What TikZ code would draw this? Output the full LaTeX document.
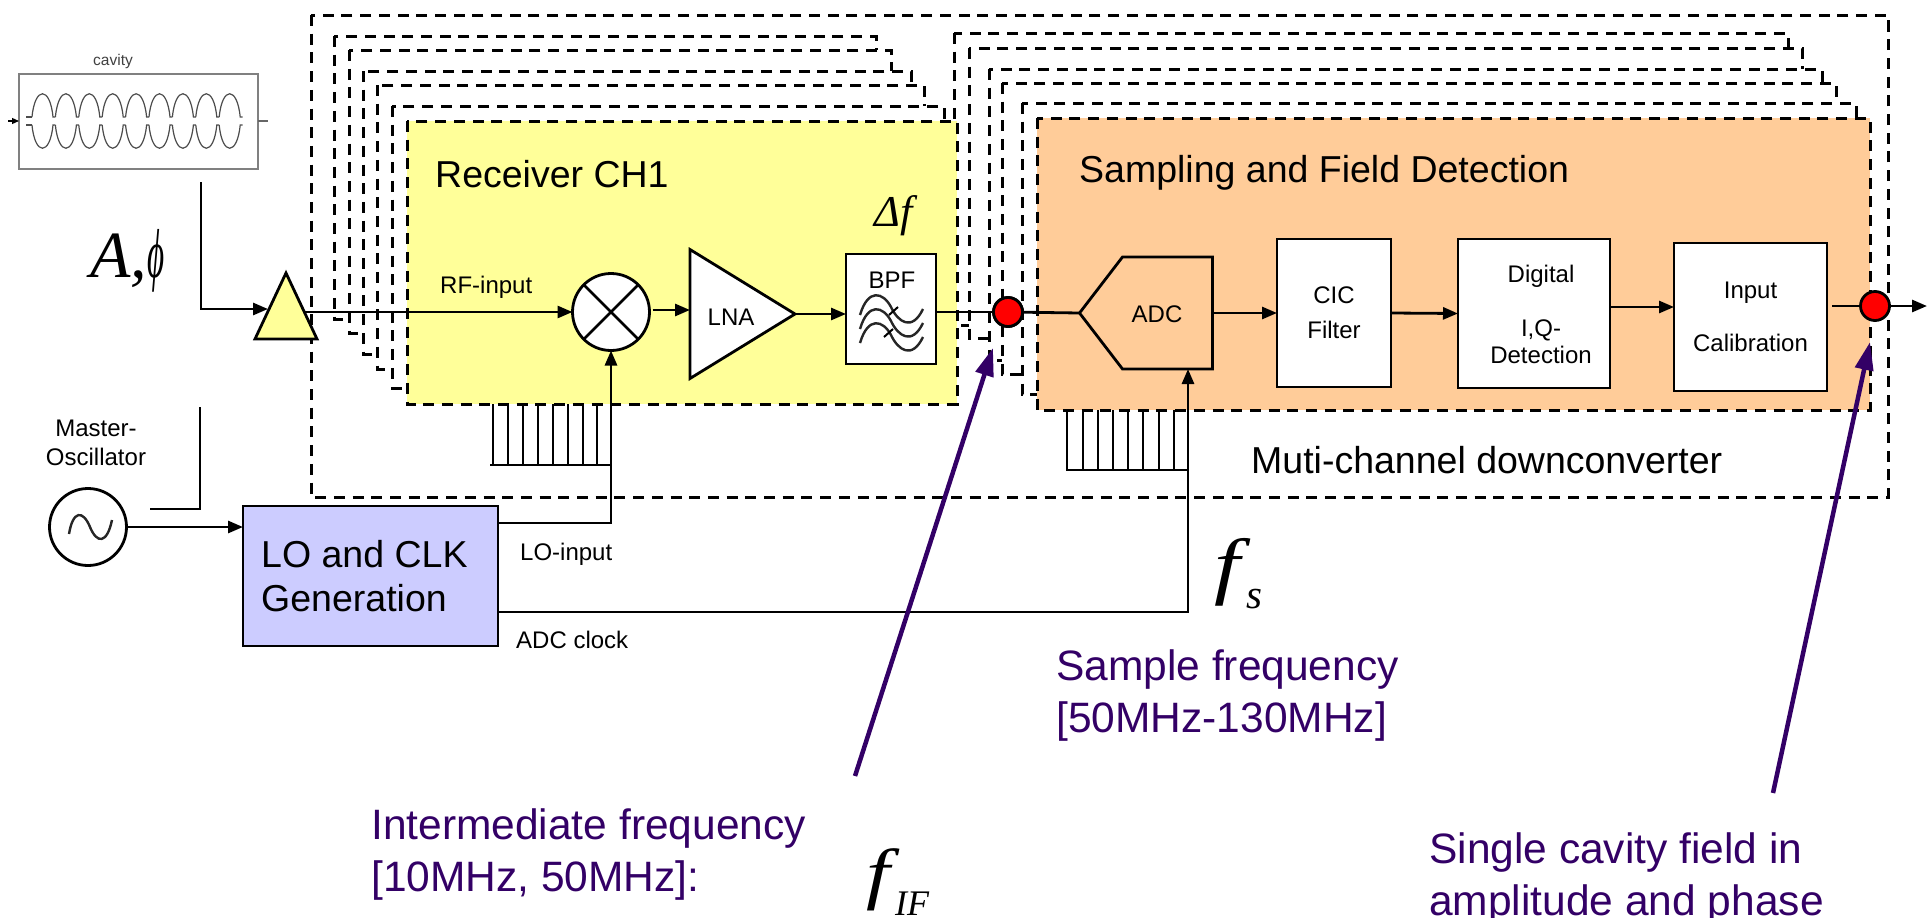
\documentclass[tikz,border=0pt]{standalone}
\usepackage{fontspec}
\setmainfont{Liberation Sans}
\newfontfamily\formulafont{Liberation Serif}
\usetikzlibrary{arrows.meta,shapes.geometric,shapes.symbols}
\definecolor{rxyellow}{HTML}{FFFF99}
\definecolor{adcorange}{HTML}{FFCC99}
\definecolor{loblue}{HTML}{CCCCFF}
\definecolor{notepurple}{HTML}{330066}
\tikzset{
    stackbox/.style={draw,fill=white,line width=3pt,dash pattern=on 11pt off 7.7pt},
    sig/.style={line width=2.8pt,-{Triangle[length=15pt,width=12pt]}},
    plainsig/.style={line width=2.8pt},
    note/.style={line width=4.5pt,notepurple,-{Triangle[length=28pt,width=18pt]}},
    blockbox/.style={draw,fill=white,line width=2.8pt,inner sep=0pt,outer sep=0pt,align=center,font=\fontsize{24}{35}\selectfont},
    amp/.style={draw,isosceles triangle,isosceles triangle stretches,inner sep=0pt,outer sep=0pt,line width=2.8pt},
    roundbox/.style={draw,circle,inner sep=0pt,outer sep=0pt,line width=2.8pt},
    reddot/.style={draw,circle,fill=red,minimum size=29pt,inner sep=0pt,outer sep=0pt,line width=2.8pt},
    labeltext/.style={anchor=base west,inner sep=0pt,font=\fontsize{24}{29}\selectfont},
    titletext/.style={anchor=base west,inner sep=0pt,font=\fontsize{37.5}{44}\selectfont},
    notetext/.style={anchor=base west,inner sep=0pt,align=left,notepurple,font=\fontsize{42.5}{51.5}\selectfont},
    formula/.style={anchor=base west,inner sep=0pt,font=\formulafont\itshape\fontsize{#1}{#1}\selectfont}
}
\begin{document}
\begin{tikzpicture}[x=1pt,y=-1pt]
    \useasboundingbox (0,0) rectangle (1927,918);
    \draw[stackbox,fill=none] (311,15) rectangle (1888,497);
    \foreach \l/\t/\r/\b in {954/33/1788/325,969/48/1802/338,989/69/1822/360,1002/83/1836/374,1022/103/1856/394}
        \draw[stackbox] (\l,\t) rectangle (\r,\b);
    \foreach \l/\t/\r/\b in {334/36/876/319,349/50/891/333,363/71/911/354,377/85/924/369,392/106/944/388}
        \draw[stackbox] (\l,\t) rectangle (\r,\b);
    \draw[stackbox,fill=rxyellow] (407,121) rectangle (957,404);
    \draw[stackbox,fill=adcorange] (1037,118) rectangle (1870,410);

    \node[labeltext,font=\fontsize{15.5}{18}\selectfont,anchor=center,black!75] (cavitytext) at (113,61) {cavity};
    \node[draw=black!50,line width=1.6pt,minimum width=239pt,minimum height=95pt,inner sep=0pt,outer sep=0pt] (cavity) at (138.5,121.5) {};
    \foreach \i in {0,...,8}{
        \draw[black!70,line width=1.2pt] (32+23.4*\i,117) .. controls (35+23.4*\i,86) and (50+23.4*\i,86) .. (53+23.4*\i,117) -- (55.4+23.4*\i,117);
        \draw[black!70,line width=1.2pt] (32+23.4*\i,125) .. controls (35+23.4*\i,156) and (50+23.4*\i,156) .. (53+23.4*\i,125) -- (55.4+23.4*\i,125);
    }
    \draw[black!70,line width=1.2pt] (26,117) -- (32,117) (26,125) -- (32,125);
    \coordinate (cavin) at (8,121);
    \coordinate (cavend) at (268,121);
    \draw[line width=1.2pt,-{Triangle[length=7pt,width=6pt]}] (cavin) -- (cavity.west |- cavin);
    \draw[black!60,line width=1.4pt] (cavity.east |- cavend) -- (cavend);

    \coordinate (cavout) at (201,182);
    \coordinate (ampin) at (268,309);
    \coordinate (ampout) at (304,312);
    \node[amp,fill=rxyellow,shape border rotate=90,minimum height=66pt,minimum width=62pt,anchor=lower side] (preamp) at (286,339) {};
    \draw[sig] (cavout) |- (ampin);
    \node[formula=66] (apmtext) at (90,277) {A,\scalebox{0.5}[1.05]{ϕ}};

    \node[titletext] (rxtext) at (435,187) {Receiver CH1};
    \node[labeltext] (rftext) at (440,293) {RF-input};
    \node[roundbox,fill=white,minimum size=77pt] (mixer) at (611,312) {};
    \draw[line width=2.6pt] (mixer.45) -- (mixer.225) (mixer.135) -- (mixer.315);
    \draw[sig] (ampout) -- (mixer.west);
    \node[amp,fill=white,shape border rotate=0,minimum height=105pt,minimum width=129pt,anchor=lower side] (lna) at (690,314) {};
    \node[labeltext,anchor=center] (lnatext) at (731,317) {LNA};
    \draw[sig] (mixer.east) ++(3,-2) coordinate (mixout) -- (mixout -| lna.lower side);
    \node[blockbox,minimum width=90pt,minimum height=110pt] (bpf) at (891,309) {};
    \node[labeltext,anchor=center] (bpftext) at (892,280) {BPF};
    \foreach \d in {0,14,28}
        \draw[line width=2.4pt,black!85] (860,315+\d) .. controls (868,288+\d) and (883,292+\d) .. (891,307+\d) .. controls (898,322+\d) and (912,332+\d) .. (923,309+\d);
    \draw[line width=2pt] (889,315) -- (898,307) (884,337) -- (893,329);
    \draw[sig] (lna.apex) -- (bpf.west |- lna.apex);
    \node[formula=44] (deltatext) at (874,226) {Δf};

    \node[draw,signal,signal to=west,signal from=nowhere,signal pointer angle=105,minimum width=133pt,minimum height=112pt,inner sep=0pt,outer sep=0pt,line width=2.8pt,fill=adcorange] (adc) at (1167.5,313) {};
    \node[labeltext,anchor=center] (adctext) at (1157,314) {ADC};
    \node[reddot] (ifdot) at (1008,312) {};
    \draw[plainsig] (bpf.east |- ifdot) -- (ifdot);
    \draw[plainsig] (ifdot) -- (adc.west);
    \node[reddot] (ifdot) at (1008,312) {};

    \node[titletext] (samptext) at (1079,182) {Sampling and Field Detection};
    \node[blockbox,minimum width=114pt,minimum height=148pt] (cic) at (1334,313) {CIC\\Filter};
    \node[blockbox,minimum width=152pt,minimum height=149pt] (iqbox) at (1534,313.5) {};
    \node[labeltext,anchor=center,align=center,font=\fontsize{24}{27}\selectfont] (iqtext) at (1541,314) {Digital\\[27pt]I,Q-\\Detection};
    \node[blockbox,minimum width=153pt,minimum height=148pt,font=\fontsize{24}{26.5}\selectfont] (cal) at (1750.5,317) {Input\\[26.5pt]Calibration};
    \draw[sig] (adc.east) -- (cic.west);
    \draw[sig] (cic.east) -- (iqbox.west);
    \coordinate (iqout) at (1610,307);
    \draw[sig] (iqout) -- (iqout -| cal.west);
    \coordinate (calout) at (1832,306);
    \coordinate (fieldout) at (1927,306);
    \node[reddot] (outdot) at (1875,306) {};
    \draw[plainsig] (calout) -- (outdot);
    \draw[sig] (outdot) -- (fieldout);
    \node[titletext] (multitext) at (1251,473) {Muti-channel downconverter};

    \node[labeltext,anchor=center,align=center] (osctext) at (96,443) {Master-\\Oscillator};
    \node[roundbox,minimum size=77pt] (osc) at (88,527) {};
    \draw[line width=2.4pt,black!85] (69,534) .. controls (73,510) and (83,510) .. (90,527) .. controls (97,544) and (107,544) .. (112,520);
    \coordinate (mark top) at (200,407);
    \coordinate (mark end) at (150,509);
    \draw[line width=2.8pt] (mark top) |- (mark end);
    \node[draw,fill=loblue,line width=2.8pt,minimum width=255pt,minimum height=140pt,inner sep=0pt,outer sep=0pt] (logen) at (370.5,576) {};
    \node[titletext,align=left,anchor=west] (lotext) at (261,576) {LO and CLK\\Generation};
    \draw[sig] (osc.east) -- (osc.east -| logen.west);

    \foreach \x in {493,508,523,538,553,568,583,597}
        \draw[line width=2.4pt] (\x,404) -- (\x,465);
    \foreach \x in {1067,1083,1098,1113,1128,1143,1159,1174}
        \draw[line width=2.4pt] (\x,410) -- (\x,470);
    \coordinate (locomb) at (490,465);
    \coordinate (adccomb) at (1066,470);
    \coordinate (loout) at (498,523);
    \coordinate (clkout) at (498,612);
    \coordinate (adcin) at (1188,369);
    \draw[line width=2.8pt] (locomb) -- (locomb -| mixer.south);
    \draw[line width=2.8pt] (adccomb) -- (adccomb -| adcin);
    \draw[sig] (loout) -| (mixer.south);
    \draw[sig] (clkout) -| (adcin);
    \node[labeltext] (lointext) at (520,560) {LO-input};
    \node[labeltext] (clktext) at (516,648) {ADC clock};

    \node[formula=74] (fstext) at (1214,590) {\scalebox{1.25}[1]{f}};
    \node[formula=41] (fssub) at (1246,608) {s};
    \node[notetext] (sampnote) at (1056,732) {Sample frequency\\{[}50MHz-130MHz{]}};
    \node[notetext] (ifnote) at (371,891) {Intermediate frequency\\{[}10MHz, 50MHz{]}:};
    \node[notetext] (fieldnote) at (1429,915) {Single cavity field in\\amplitude and phase};
    \node[formula=68] (fiftext) at (866,896) {\scalebox{1.25}[1]{f}};
    \node[formula=36] (fifsub) at (895,915) {IF};
    \coordinate (iftail) at (855,776);
    \coordinate (iftip) at (993,348);
    \coordinate (fieldtail) at (1773,793);
    \coordinate (fieldtip) at (1870,342);
    \draw[note] (iftail) -- (iftip);
    \draw[note] (fieldtail) -- (fieldtip);
\end{tikzpicture}
\end{document}
